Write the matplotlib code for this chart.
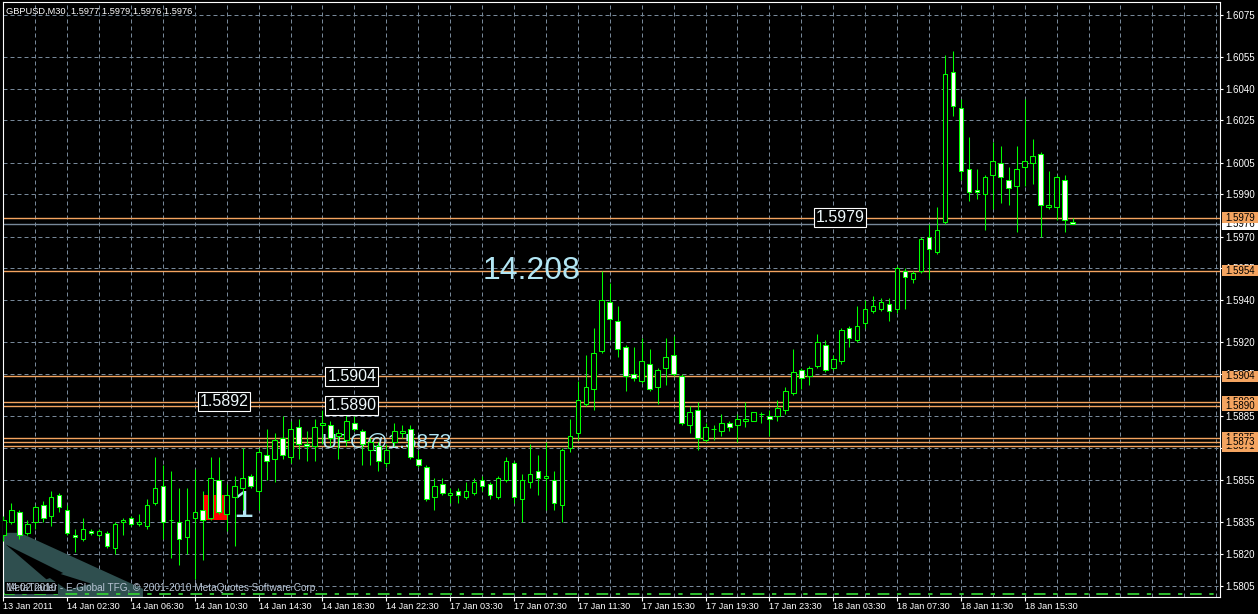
import matplotlib
matplotlib.use("Agg")
import matplotlib.pyplot as plt
import matplotlib.transforms as mtransforms
from matplotlib.patches import Rectangle, Polygon

# GBPUSD M30 candles, bar 0 = 13 Jan 2011 22:30
opens = [1.5829, 1.5835, 1.5840, 1.5830, 1.5835, 1.5843, 1.5838, 1.5848, 1.5841, 1.5829,
         1.5827, 1.5831, 1.5829, 1.5830, 1.5823, 1.5835, 1.5837, 1.5834, 1.5833, 1.5844,
         1.5852, 1.5836, 1.5835, 1.5828, 1.5837, 1.5841, 1.5837, 1.5855, 1.5839, 1.5847,
         1.5851, 1.5857, 1.5850, 1.5867, 1.5865, 1.5875, 1.5866, 1.5880, 1.5872, 1.5871,
         1.5881, 1.5881, 1.5876, 1.5874, 1.5882, 1.5878, 1.5869, 1.5871, 1.5863, 1.5873,
         1.5877, 1.5879, 1.5865, 1.5861, 1.5847, 1.5853, 1.5848, 1.5850, 1.5847, 1.5849,
         1.5855, 1.5853, 1.5847, 1.5855, 1.5863, 1.5846, 1.5854, 1.5859, 1.5856, 1.5855,
         1.5843, 1.5870, 1.5877, 1.5891, 1.5898, 1.5916, 1.5939, 1.5930, 1.5918, 1.5905,
         1.5902, 1.5910, 1.5899, 1.5908, 1.5914, 1.5904, 1.5881, 1.5888, 1.5874, 1.5879,
         1.5878, 1.5882, 1.5881, 1.5883, 1.5883, 1.5886, 1.5885, 1.5885, 1.5888, 1.5896,
         1.5907, 1.5904, 1.5909, 1.5919, 1.5908, 1.5911, 1.5927, 1.5921, 1.5929, 1.5935,
         1.5936, 1.5938, 1.5936, 1.5954, 1.5950, 1.5954, 1.5970, 1.5963, 1.5977, 1.6048,
         1.6031, 1.6002, 1.5992, 1.5990, 1.5999, 1.6005, 1.5997, 1.5994, 1.6003, 1.6005,
         1.6009, 1.5984, 1.5984, 1.5997, 1.5977]
highs = [1.5838, 1.5844, 1.5841, 1.5836, 1.5843, 1.5845, 1.5850, 1.5849, 1.5843, 1.5832,
         1.5837, 1.5832, 1.5832, 1.5831, 1.5835, 1.5837, 1.5838, 1.5839, 1.5846, 1.5866,
         1.5862, 1.5859, 1.5851, 1.5851, 1.5860, 1.5850, 1.5866, 1.5866, 1.5853, 1.5857,
         1.5870, 1.5858, 1.5870, 1.5879, 1.5877, 1.5885, 1.5883, 1.5884, 1.5878, 1.5884,
         1.5888, 1.5883, 1.5879, 1.5888, 1.5885, 1.5879, 1.5875, 1.5873, 1.5872, 1.5882,
         1.5881, 1.5881, 1.5869, 1.5862, 1.5856, 1.5856, 1.5851, 1.5851, 1.5854, 1.5856,
         1.5857, 1.5854, 1.5857, 1.5866, 1.5864, 1.5858, 1.5872, 1.5867, 1.5873, 1.5859,
         1.5870, 1.5884, 1.5902, 1.5914, 1.5927, 1.5954, 1.5948, 1.5937, 1.5919, 1.5918,
         1.5922, 1.5917, 1.5908, 1.5922, 1.5923, 1.5905, 1.5890, 1.5892, 1.5882, 1.5881,
         1.5886, 1.5883, 1.5886, 1.5892, 1.5887, 1.5887, 1.5888, 1.5893, 1.5899, 1.5917,
         1.5908, 1.5909, 1.5924, 1.5921, 1.5914, 1.5927, 1.5928, 1.5937, 1.5940, 1.5942,
         1.5941, 1.5941, 1.5956, 1.5955, 1.5954, 1.5970, 1.5976, 1.5984, 1.6056, 1.6058,
         1.6035, 1.6017, 1.6002, 1.5999, 1.6015, 1.6013, 1.6003, 1.6013, 1.6035, 1.6016,
         1.6010, 1.6001, 1.5999, 1.5999, 1.5979]
lows = [1.5826, 1.5834, 1.5827, 1.5829, 1.5832, 1.5835, 1.5833, 1.5840, 1.5829, 1.5821,
        1.5826, 1.5829, 1.5828, 1.5823, 1.5820, 1.5829, 1.5833, 1.5833, 1.5832, 1.5843,
        1.5827, 1.5818, 1.5815, 1.5820, 1.5808, 1.5817, 1.5836, 1.5839, 1.5831, 1.5824,
        1.5841, 1.5851, 1.5841, 1.5855, 1.5854, 1.5865, 1.5863, 1.5865, 1.5864, 1.5864,
        1.5872, 1.5871, 1.5865, 1.5871, 1.5878, 1.5862, 1.5862, 1.5859, 1.5861, 1.5871,
        1.5875, 1.5865, 1.5861, 1.5845, 1.5841, 1.5848, 1.5844, 1.5844, 1.5846, 1.5848,
        1.5850, 1.5846, 1.5846, 1.5854, 1.5844, 1.5835, 1.5851, 1.5848, 1.5841, 1.5841,
        1.5835, 1.5868, 1.5874, 1.5890, 1.5888, 1.5915, 1.5921, 1.5913, 1.5897, 1.5902,
        1.5901, 1.5897, 1.5891, 1.5900, 1.5904, 1.5881, 1.5877, 1.5869, 1.5873, 1.5874,
        1.5876, 1.5878, 1.5873, 1.5880, 1.5883, 1.5882, 1.5876, 1.5883, 1.5886, 1.5895,
        1.5898, 1.5900, 1.5908, 1.5906, 1.5907, 1.5910, 1.5918, 1.5920, 1.5927, 1.5934,
        1.5935, 1.5930, 1.5934, 1.5936, 1.5948, 1.5953, 1.5950, 1.5962, 1.5976, 1.6027,
        1.5997, 1.5987, 1.5988, 1.5973, 1.5983, 1.5986, 1.5985, 1.5972, 1.5994, 1.5995,
        1.5970, 1.5983, 1.5978, 1.5972, 1.5976]
closes = [1.5836, 1.5841, 1.5829, 1.5834, 1.5842, 1.5837, 1.5847, 1.5842, 1.5830, 1.5828,
          1.5832, 1.5830, 1.5831, 1.5824, 1.5834, 1.5836, 1.5834, 1.5835, 1.5843, 1.5851,
          1.5835, 1.5836, 1.5827, 1.5836, 1.5840, 1.5836, 1.5856, 1.5840, 1.5848, 1.5852,
          1.5856, 1.5852, 1.5868, 1.5864, 1.5874, 1.5867, 1.5879, 1.5872, 1.5871, 1.5880,
          1.5882, 1.5875, 1.5877, 1.5883, 1.5879, 1.5872, 1.5873, 1.5864, 1.5869, 1.5878,
          1.5878, 1.5866, 1.5862, 1.5846, 1.5852, 1.5849, 1.5849, 1.5848, 1.5850, 1.5854,
          1.5852, 1.5848, 1.5856, 1.5864, 1.5847, 1.5855, 1.5858, 1.5856, 1.5857, 1.5844,
          1.5869, 1.5876, 1.5893, 1.5899, 1.5915, 1.5940, 1.5931, 1.5917, 1.5904, 1.5903,
          1.5911, 1.5898, 1.5907, 1.5913, 1.5905, 1.5882, 1.5887, 1.5875, 1.5880, 1.5879,
          1.5882, 1.5880, 1.5884, 1.5884, 1.5887, 1.5886, 1.5884, 1.5889, 1.5897, 1.5906,
          1.5903, 1.5908, 1.5920, 1.5907, 1.5912, 1.5926, 1.5922, 1.5928, 1.5936, 1.5937,
          1.5939, 1.5935, 1.5955, 1.5951, 1.5953, 1.5969, 1.5964, 1.5973, 1.6047, 1.6032,
          1.6001, 1.5991, 1.5991, 1.5998, 1.6006, 1.5998, 1.5993, 1.6002, 1.6006, 1.6008,
          1.5985, 1.5985, 1.5998, 1.5978, 1.5976]

tick_bars = list(range(0, 129, 8))
tick_labels = ['13 Jan 2011', '14 Jan 02:30', '14 Jan 06:30', '14 Jan 10:30', '14 Jan 14:30',
               '14 Jan 18:30', '14 Jan 22:30', '17 Jan 03:30', '17 Jan 07:30', '17 Jan 11:30',
               '17 Jan 15:30', '17 Jan 19:30', '17 Jan 23:30', '18 Jan 03:30', '18 Jan 07:30',
               '18 Jan 11:30', '18 Jan 15:30']
price_ticks = [1.6075, 1.6055, 1.6040, 1.6025, 1.6005, 1.5990, 1.5970, 1.5955, 1.5940,
               1.5920, 1.5905, 1.5885, 1.5870, 1.5855, 1.5835, 1.5820, 1.5805]

# horizontal line objects and their price tags (drawn in this order)
hline_prices = [1.5979, 1.5954, 1.5904, 1.5892, 1.5890, 1.5875, 1.5873, 1.5871]
tag_prices = [1.5892, 1.5890, 1.5875, 1.5871, 1.5873, 1.5954, 1.5904, 1.5979]
bid_price = 1.5976
bottom_line_price = 1.5801

# text label objects on the chart
box_texts = ['1.5979', '1.5904', '1.5892', '1.5890']
box_bars = [101.5, 40.3, 24.3, 40.3]
box_prices = [1.5979, 1.5904, 1.5892, 1.5890]

# triangle objects (bar, price) in the lower left corner
tri_outer = [(-0.1, 1.5830), (2.1, 1.5830), (17.5, 1.58035), (17.5, 1.5799), (-0.1, 1.5799)]
tri_cuts = [[(0.3, 1.58245), (7.5, 1.58110), (5.4, 1.58080)],
            [(3.4, 1.58150), (11.0, 1.58060), (8.0, 1.58030)]]

GREEN = '#00ff00'
ORANGE = '#f4a460'
GRID = '#778899'
LBLUE = '#b2e6f4'
FONT = ['Liberation Sans', 'DejaVu Sans']

W, H = 1258, 614
fig = plt.figure(figsize=(W / 100, H / 100), dpi=100, facecolor='black')
ax = fig.add_axes([2.7 / W, (H - 596.7) / H, (1220 - 2.7) / W, (596.7 - 1.7) / H])
ax.set_facecolor('black')
ax.set_xlim(-0.075, 152.47)
ax.set_ylim(1.57998, 1.60811)

for s in ax.spines.values():
    s.set_color('white')
    s.set_linewidth(0.8)

# axes ticks
ax.yaxis.tick_right()
ax.set_yticks(price_ticks)
ax.set_yticklabels(['%.4f' % p for p in price_ticks])
ax.set_xticks(tick_bars)
ax.set_xticklabels(tick_labels, ha='left')
ax.set_xticks(range(0, 153, 4), minor=True)
ax.tick_params(axis='y', colors='white', length=2.5, width=0.8, pad=1.5, labelsize=7)
ax.tick_params(axis='x', colors='white', length=3, width=0.8, pad=1, labelsize=6.6)
ax.tick_params(axis='x', which='minor', length=0)
for lab in ax.get_xticklabels() + ax.get_yticklabels():
    lab.set_fontfamily(FONT)

ax.grid(True, axis='x', which='both', color=GRID, lw=0.72, ls=(0, (4, 3)))
ax.grid(True, axis='y', which='major', color=GRID, lw=0.72, ls=(0, (4, 3)))
ax.set_axisbelow(True)

# triangles
ax.add_patch(Polygon(tri_outer, closed=True, facecolor='#2f4f4f', edgecolor='none', zorder=1))
for cut in tri_cuts:
    ax.add_patch(Polygon(cut, closed=True, facecolor='black', edgecolor='none', zorder=1.1))

# red rectangle
ax.add_patch(Rectangle((25, 1.5836), 3, 0.0012, facecolor='#ff0000', edgecolor='none', zorder=1.2))

# horizontal lines
for p in hline_prices:
    ax.axhline(p, color=ORANGE, lw=1.0, zorder=2)
ax.axhline(bid_price, color=GRID, lw=1.0, zorder=2)
ax.axhline(bottom_line_price, color='#32cd32', lw=1.3, ls=(0, (6.5, 4.2, 2.4, 4.2)), zorder=2)

# big texts
ax.text(60.1, 1.59536, '14.208', color=LBLUE, fontsize=23, family=FONT, va='center', ha='left', zorder=2.5)
ax.text(39.9, 1.5873, 'UPO@1.5873', color=LBLUE, fontsize=15, family=FONT, va='center', ha='left', zorder=2.5)
ax.text(28.8, 1.5842, '1', color=LBLUE, fontsize=26, family=FONT, va='center', ha='left', zorder=2.5)

# candles
for i in range(len(opens)):
    o, h, l, c = opens[i], highs[i], lows[i], closes[i]
    ax.plot([i, i], [l, h], color=GREEN, lw=0.75, zorder=3, solid_capstyle='butt')
    lo_b, hi_b = min(o, c), max(o, c)
    face = 'white' if c < o else 'black'
    ax.add_patch(Rectangle((i - 0.29, lo_b), 0.58, hi_b - lo_b, facecolor=face,
                           edgecolor=GREEN, lw=0.75, zorder=4))

# boxed price labels on the chart
for t, b, p in zip(box_texts, box_bars, box_prices):
    ax.text(b + 0.3, p, t, color='#eef8fb', fontsize=11.5, family=FONT, va='center', ha='left',
            zorder=6, bbox=dict(boxstyle='square,pad=0.12', facecolor='black', edgecolor='white', lw=0.8))

# price tags on the right axis
trans = mtransforms.blended_transform_factory(ax.transAxes, ax.transData)
tag_x = 1 + 1.7 / 1217.3
tag_w = 36 / 1217.3
tag_h = 11 / 21150
ax.add_patch(Rectangle((tag_x, bid_price - tag_h / 2), tag_w, tag_h, transform=trans,
                       facecolor='white', edgecolor='none', clip_on=False, zorder=7))
ax.text(tag_x + tag_w / 2, bid_price, '%.4f' % bid_price, transform=trans, color='black',
        fontsize=7, family=FONT, ha='center', va='center', clip_on=False, zorder=7.1)
for k, p in enumerate(tag_prices):
    ax.add_patch(Rectangle((tag_x, p - tag_h / 2), tag_w, tag_h, transform=trans,
                           facecolor=ORANGE, edgecolor='none', clip_on=False, zorder=8 + k * 0.1))
    ax.text(tag_x + tag_w / 2, p, '%.4f' % p, transform=trans, color='black', fontsize=7,
            family=FONT, ha='center', va='center', clip_on=False, zorder=8.05 + k * 0.1)

# header and copyright
fig.text(6.5 / W, 1 - 11 / H, 'GBPUSD,M30  1.5977 1.5979 1.5976 1.5976', color='white',
         fontsize=6.7, family=FONT, va='center', ha='left')
fig.text(6 / W, 1 - 588 / H, '14.02.2010', color='#b8c4d4', fontsize=7.2, family=FONT,
         va='center', ha='left', bbox=dict(boxstyle='square,pad=0.1', facecolor='black', edgecolor='none'))
fig.text(6 / W, 1 - 588 / H, 'MetaTrader - E-Global TFG, \u00a9 2001-2010 MetaQuotes Software Corp.',
         color='#b8c4d4', fontsize=7.2, family=FONT, va='center', ha='left')

fig.savefig('out.png', dpi=100, facecolor='black')
